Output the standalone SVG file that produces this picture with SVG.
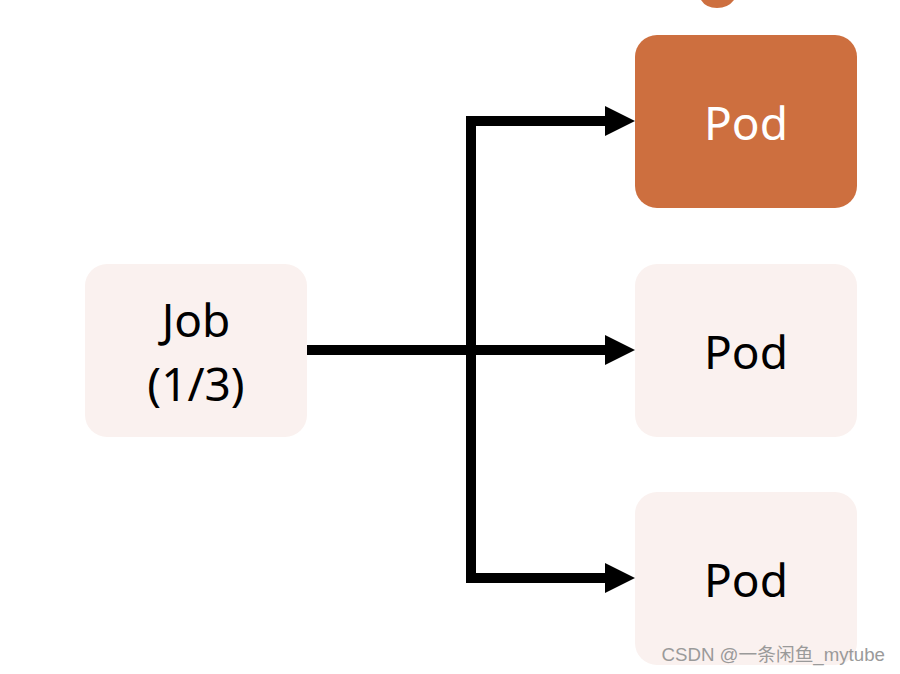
<svg xmlns="http://www.w3.org/2000/svg" width="900" height="674" viewBox="0 0 900 674">
<defs>
<style>
.light{fill:#FAF1EF}
.orange{fill:#CD6F3F}
.lbl{font-family:"Noto Sans","Open Sans",sans-serif;font-size:46px;text-anchor:middle}
.line{stroke:#000;stroke-width:10;fill:none}
.head{fill:#000}
</style>
</defs>
<rect width="900" height="674" fill="#fff"/>
<g id="top-partial">
<path d="M701,0 L734,0 Q728,8 717,8 Q706,8 701,0 Z" class="orange"/>
</g>
<g id="connectors">
<line x1="307" y1="350" x2="606" y2="350" class="line"/>
<polyline points="606,121 471,121 471,578 606,578" class="line" stroke-linejoin="miter"/>
<path d="M605,106 L635,121 L605,136 Z" class="head"/>
<path d="M605,335 L635,350 L605,365 Z" class="head"/>
<path d="M605,563 L635,578 L605,593 Z" class="head"/>
</g>
<g id="job">
<rect x="85" y="264" width="222" height="173" rx="22" class="light"/>
<text x="196" y="337" class="lbl">Job</text>
<text x="196" y="401" class="lbl">(1/3)</text>
</g>
<g id="pod1">
<rect x="635" y="35" width="222" height="173" rx="22" class="orange"/>
<text x="746" y="140" class="lbl" fill="#fff">Pod</text>
</g>
<g id="pod2">
<rect x="635" y="264" width="222" height="173" rx="22" class="light"/>
<text x="746" y="369" class="lbl">Pod</text>
</g>
<g id="pod3">
<rect x="635" y="492" width="222" height="173" rx="22" class="light"/>
<text x="746" y="597" class="lbl">Pod</text>
</g>
<text x="885" y="661" text-anchor="end" font-family="'Liberation Sans','Noto Sans CJK SC',sans-serif" font-size="18.7" fill="#9a9a9a">CSDN @一条闲鱼_mytube</text>
</svg>
